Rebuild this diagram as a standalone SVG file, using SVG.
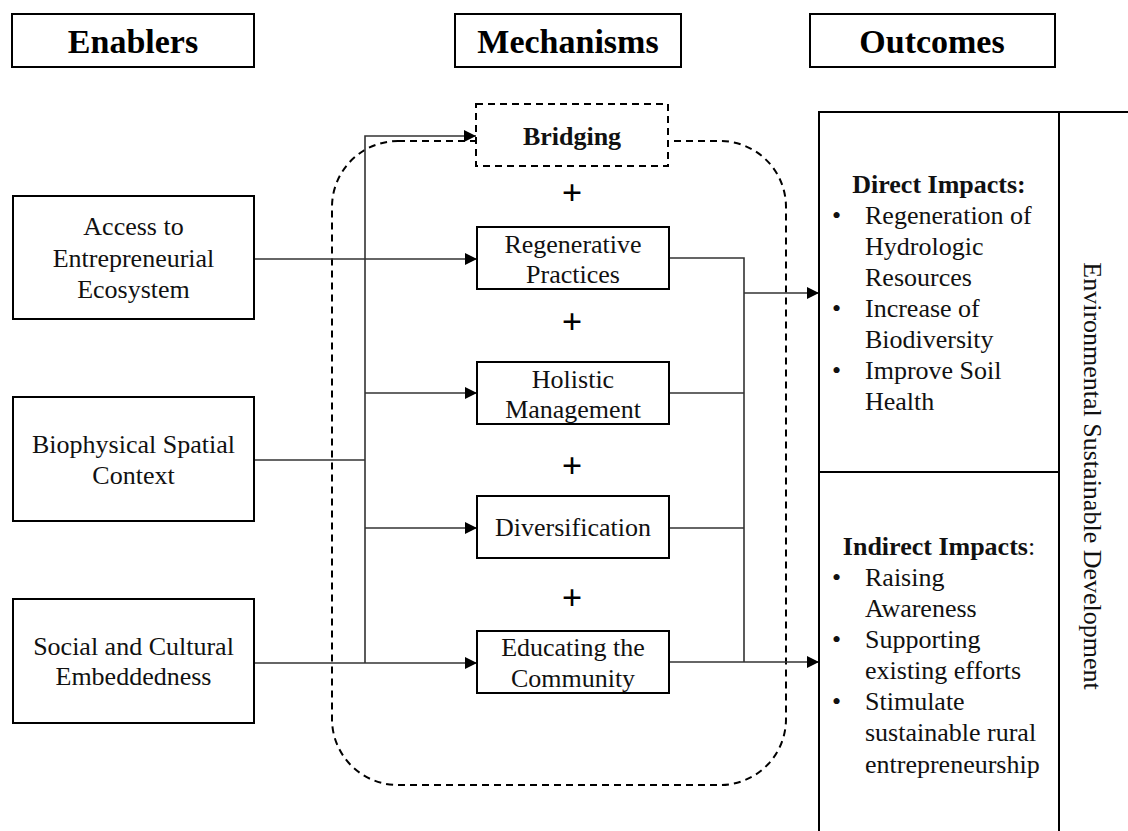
<svg xmlns="http://www.w3.org/2000/svg" width="1128" height="831" viewBox="0 0 1128 831">
<style>
.box{fill:#fff;stroke:#000;stroke-width:2}
.hdr{font-family:"Liberation Serif","Times New Roman",serif;font-weight:bold;font-size:34px;text-anchor:middle;fill:#000}
.t{font-family:"Liberation Serif","Times New Roman",serif;font-size:26px;text-anchor:middle;fill:#111}
.tl{font-family:"Liberation Serif","Times New Roman",serif;font-size:26px;fill:#111}
.b{font-weight:bold}
.con{fill:none;stroke:#333;stroke-width:1.6}
.arr{marker-end:url(#ah)}
.dash{fill:none;stroke:#000;stroke-width:2;stroke-dasharray:7 5}
.plus{font-family:"Liberation Serif","Times New Roman",serif;font-size:36px;font-weight:bold;text-anchor:middle;fill:#000}
</style>
<defs>
<marker id="ah" markerUnits="userSpaceOnUse" markerWidth="12" markerHeight="12" refX="12" refY="6" orient="auto">
<path d="M0,0 L12,6 L0,12 Z" fill="#000"/>
</marker>
</defs>
<rect width="1128" height="831" fill="#fff"/>

<g id="header-enablers"><rect class="box" x="12" y="14" width="242" height="53"/><text class="hdr" x="133" y="53">Enablers</text></g>
<g id="header-mechanisms"><rect class="box" x="455" y="14" width="226" height="53"/><text class="hdr" x="568" y="53">Mechanisms</text></g>
<g id="header-outcomes"><rect class="box" x="810" y="14" width="245" height="53"/><text class="hdr" x="932" y="53">Outcomes</text></g>

<g id="mechanism-group"><rect class="dash" x="332" y="141" width="454" height="644" rx="66" ry="66"/></g>

<g id="connectors">
<path class="con arr" d="M365,663 V136 H476"/>
<path class="con arr" d="M254,259 H477"/>
<path class="con" d="M254,460 H365"/>
<path class="con arr" d="M254,663 H477"/>
<path class="con arr" d="M365,393 H477"/>
<path class="con arr" d="M365,528 H477"/>
<path class="con" d="M669,258 H744 V662"/>
<path class="con" d="M669,393 H744"/>
<path class="con" d="M669,528 H744"/>
<path class="con arr" d="M669,662 H819"/>
<path class="con arr" d="M744,293 H819"/>
</g>

<g id="enabler-access"><rect class="box" x="13" y="196" width="241" height="123"/>
<text class="t" x="133.5" y="235">Access to</text><text class="t" x="133.5" y="267">Entrepreneurial</text><text class="t" x="133.5" y="298">Ecosystem</text></g>
<g id="enabler-biophysical"><rect class="box" x="13" y="397" width="241" height="124"/>
<text class="t" x="133.5" y="453">Biophysical Spatial</text><text class="t" x="133.5" y="484">Context</text></g>
<g id="enabler-social"><rect class="box" x="13" y="599" width="241" height="124"/>
<text class="t" x="133.5" y="655">Social and Cultural</text><text class="t" x="133.5" y="685">Embeddedness</text></g>

<g id="mech-bridging"><rect x="476" y="104" width="192" height="62" fill="#fff" stroke="#000" stroke-width="2" stroke-dasharray="7 5"/>
<text class="t b" x="572" y="145">Bridging</text></g>
<g id="mech-regenerative"><rect class="box" x="477" y="227" width="192" height="62"/>
<text class="t" x="573" y="253">Regenerative</text><text class="t" x="573" y="283">Practices</text></g>
<g id="mech-holistic"><rect class="box" x="477" y="362" width="192" height="62"/>
<text class="t" x="573" y="388">Holistic</text><text class="t" x="573" y="418">Management</text></g>
<g id="mech-diversification"><rect class="box" x="477" y="496" width="192" height="62"/>
<text class="t" x="573" y="536">Diversification</text></g>
<g id="mech-educating"><rect class="box" x="477" y="631" width="192" height="62"/>
<text class="t" x="573" y="656">Educating the</text><text class="t" x="573" y="687">Community</text></g>

<g id="plus-signs">
<text class="plus" x="572" y="205">+</text>
<text class="plus" x="572" y="334">+</text>
<text class="plus" x="572" y="478">+</text>
<text class="plus" x="572" y="610">+</text>
</g>

<g id="outcomes-frame">
<path d="M819,831 V112 H1128 M1059,112 V831 M819,472 H1059" fill="none" stroke="#000" stroke-width="2"/>
</g>

<g id="outcome-direct">
<text class="t" x="939" y="193"><tspan class="b">Direct Impacts:</tspan></text>
<text class="tl" x="832" y="224">•</text><text class="tl" x="865" y="224">Regeneration of</text>
<text class="tl" x="865" y="255">Hydrologic</text>
<text class="tl" x="865" y="286">Resources</text>
<text class="tl" x="832" y="317">•</text><text class="tl" x="865" y="317">Increase of</text>
<text class="tl" x="865" y="348">Biodiversity</text>
<text class="tl" x="832" y="379">•</text><text class="tl" x="865" y="379">Improve Soil</text>
<text class="tl" x="865" y="410">Health</text>
</g>

<g id="outcome-indirect">
<text class="t" x="939" y="555"><tspan class="b">Indirect Impacts</tspan>:</text>
<text class="tl" x="832" y="586">•</text><text class="tl" x="865" y="586">Raising</text>
<text class="tl" x="865" y="617">Awareness</text>
<text class="tl" x="832" y="648">•</text><text class="tl" x="865" y="648">Supporting</text>
<text class="tl" x="865" y="679">existing efforts</text>
<text class="tl" x="832" y="710">•</text><text class="tl" x="865" y="710">Stimulate</text>
<text class="tl" x="865" y="741">sustainable rural</text>
<text class="tl" x="865" y="773">entrepreneurship</text>
</g>

<g id="outcome-environmental">
<text class="t" transform="translate(1092,476) rotate(90)" x="0" y="8">Environmental Sustainable Development</text>
</g>
</svg>
